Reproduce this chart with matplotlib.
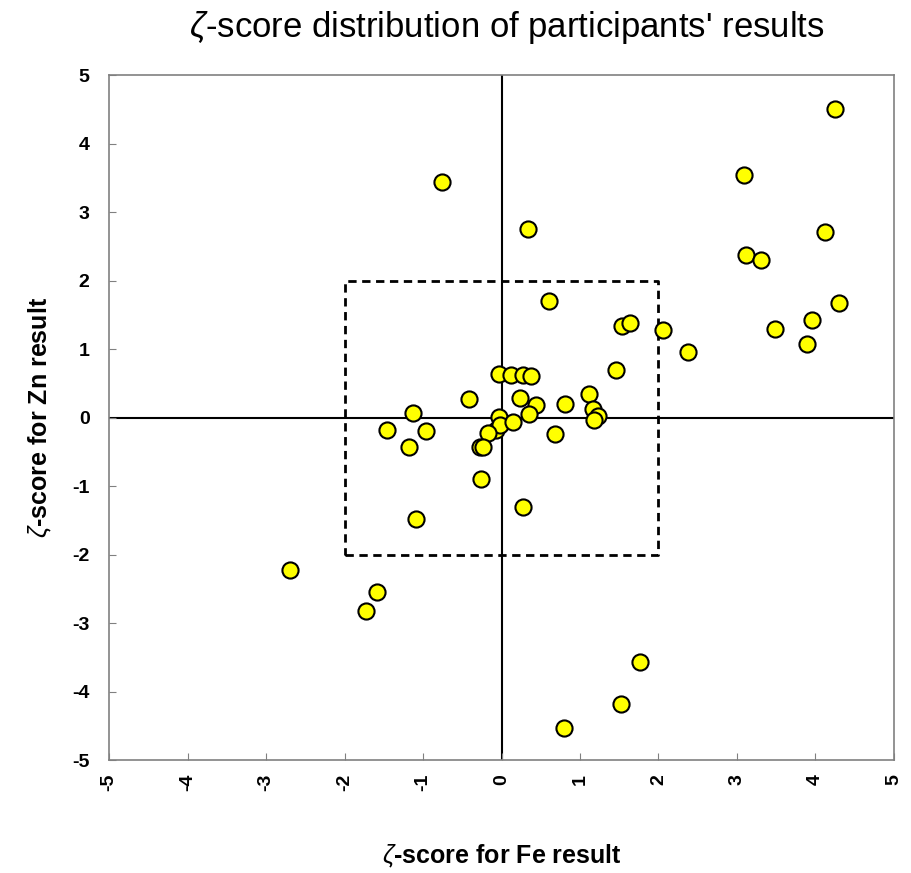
import matplotlib
matplotlib.use("Agg")
import matplotlib.pyplot as plt
import numpy as np

plt.rcParams["font.family"] = ["Liberation Sans", "DejaVu Sans"]
plt.rcParams["mathtext.fontset"] = "custom"
plt.rcParams["mathtext.it"] = "Liberation Sans:italic"
plt.rcParams["mathtext.rm"] = "Liberation Sans"

# zeta-scores (Fe on x, Zn on y)
fe_scores = [
    4.25, -0.76, 3.09, 0.34, 3.11, 3.30, 4.12, 4.30, 0.61, 1.53, 1.64, 2.06,
    2.38, 3.48, 3.95, 3.89, 1.46, -0.03, 0.12, 0.27, 0.37, -0.42, 0.24, 0.44,
    0.81, 1.11, 1.16, 1.23, 1.18, -1.13, -1.46, -0.96, -1.18, -0.07, -0.03,
    -0.02, 0.15, 0.35, -0.17, -0.28, -0.24, 0.68, -0.26, 0.28, -1.09, -2.70,
    -1.58, -1.72, 1.76, 1.52, 0.79,
]
zn_scores = [
    4.51, 3.44, 3.54, 2.75, 2.38, 2.30, 2.71, 1.67, 1.70, 1.33, 1.38, 1.28,
    0.96, 1.29, 1.42, 1.07, 0.69, 0.64, 0.62, 0.62, 0.60, 0.27, 0.28, 0.18,
    0.20, 0.34, 0.13, 0.02, -0.04, 0.06, -0.18, -0.20, -0.43, -0.18, 0.01,
    -0.11, -0.07, 0.05, -0.23, -0.43, -0.43, -0.24, -0.90, -1.31, -1.48, -2.23,
    -2.55, -2.82, -3.57, -4.18, -4.53,
]
box_limit = 2
ticks = np.arange(-5, 6)

fig = plt.figure(figsize=(9.11, 8.73), dpi=100)
ax = fig.add_axes([0.1197, 0.1294, 0.8616, 0.7846])

ax.axhline(0, color="black", lw=1.5, zorder=1)
ax.axvline(0, color="black", lw=1.5, zorder=1)
ax.plot([-box_limit, box_limit, box_limit, -box_limit, -box_limit],
        [-box_limit, -box_limit, box_limit, box_limit, -box_limit],
        color="black", lw=2, ls=(0, (3, 2)), zorder=1)

ax.scatter(fe_scores, zn_scores, s=135, c="#ffff00", edgecolors="black",
           linewidths=1.5, zorder=3)

ax.set_xlim(-5, 5)
ax.set_ylim(-5, 5)
ax.set_xticks(ticks)
ax.set_yticks(ticks)
ax.set_xticklabels([str(t) for t in ticks], rotation=90, fontsize=14,
                   fontweight="bold")
ax.set_yticklabels([str(t) for t in ticks], fontsize=14, fontweight="bold")
ax.tick_params(direction="in", length=5, color="#808080", pad=10)
ax.tick_params(axis="y", pad=14)
for sp in ax.spines.values():
    sp.set_color("#808080")
    sp.set_linewidth(1.2)

ax.set_xlabel(r"$\zeta$-score for Fe result", fontsize=18, fontweight="bold",
              labelpad=37)
ax.set_ylabel(r"$\zeta$-score for Zn result", fontsize=18, fontweight="bold",
              labelpad=13)
fig.suptitle(r"$\zeta$-score distribution of participants' results",
             fontsize=25, x=0.556, y=0.99)

fig.savefig("out.png", dpi=100)
